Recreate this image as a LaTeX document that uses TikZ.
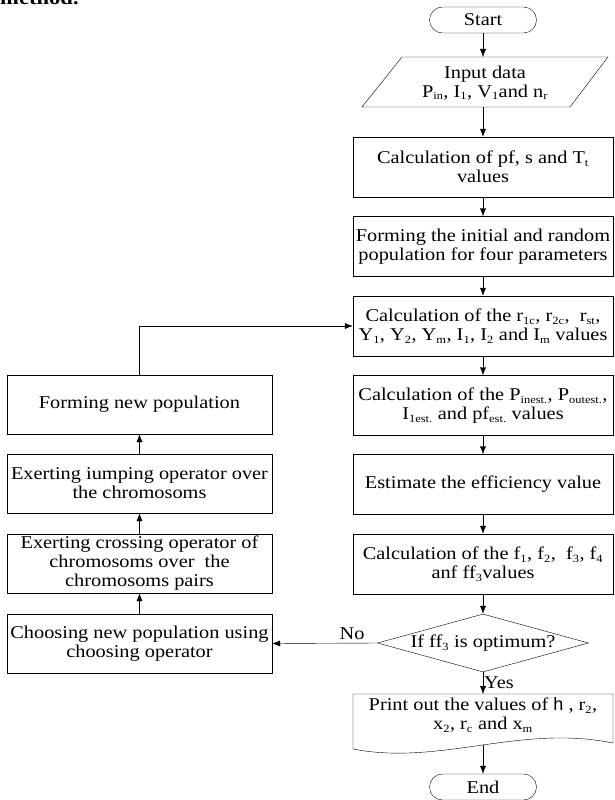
\documentclass[tikz,border=0pt]{standalone}
\usepackage{fontspec}
\setmainfont{Liberation Serif}[FakeStretch=1.13]
\newfontfamily\arialfont{Liberation Sans}
\usetikzlibrary{arrows.meta, shapes.geometric, positioning, calc}

\newcommand{\sbs}[1]{\textsubscript{\fontsize{11}{11}\selectfont #1}}

\tikzset{
  box/.style={draw, rectangle, minimum width=260pt, minimum height=60pt, align=center, inner sep=1pt},
  leftbox/.style={box, minimum width=265pt, minimum height=59pt},
  terminal/.style={draw, rectangle, rounded corners=13pt, minimum width=107pt, minimum height=26pt, inner sep=0pt},
  decision/.style={draw, diamond, aspect=3.6, minimum width=211pt, minimum height=58pt, inner sep=0pt},
  flow/.style={-{Latex[length=8pt,width=6pt]}},
}

\begin{document}
\begin{tikzpicture}[x=1pt, y=-1pt, font=\fontsize{18}{19}\selectfont]
\useasboundingbox (0,0) rectangle (614,800);
\clip (0,0) rectangle (614,800);

% cut-off text of the page above
\node[anchor=base west, inner sep=0pt, font=\fontsize{20}{22}\selectfont\bfseries] (method) at (0,5) {method.};

% main column
\node[terminal] (start) at (483,20) {Start};
\node[align=center, inner sep=0pt] (input) at (485,83) {Input data\\P\sbs{in}, I\sbs{1}, V\sbs{1}and n\sbs{r}};
\draw (402,57) -- (608,57) -- (570,107) -- (362,107) -- cycle;
\coordinate (intop) at (483,57);
\coordinate (inbot) at (483,107);
\node[box] (calcpf) at (483,167) {Calculation of pf, s and T\sbs{t}\\values};
\node[box] (forming) at (483,246.5) {Forming the initial and random\\population for four parameters};
\node[box] (calcr) at (483,326) {Calculation of the r\sbs{1c}, r\sbs{2c},\ \ r\sbs{st},\\Y\sbs{1}, Y\sbs{2}, Y\sbs{m}, I\sbs{1}, I\sbs{2} and I\sbs{m} values};
\node[box] (calcp) at (483,405.5) {Calculation of the P\sbs{inest.}, P\sbs{outest.},\\I\sbs{1est.} and pf\sbs{est.} values};
\node[box] (estimate) at (483,484.5) {Estimate the efficiency value};
\node[box] (calcf) at (483,564) {Calculation of the f\sbs{1}, f\sbs{2},\ \ f\sbs{3}, f\sbs{4}\\anf ff\sbs{3}values};
\node[decision] (decide) at (483,643) {If ff\sbs{3} is optimum?};
\node[align=center, inner sep=0pt] (print) at (483,715) {Print out the values of {\arialfont h} ,\ r\sbs{2},\\x\sbs{2}, r\sbs{c} and x\sbs{m}};
\node[terminal] (end) at (483,787) {End};

% document shape round the print node
\draw (353,694) -- (613,694) -- (613,743) .. controls (520,724) and (440,766) .. (353,749) -- cycle;
\coordinate (prtop) at (483,694);
\coordinate (wave) at (483,745);

% left column
\node[leftbox] (newpop) at (139.5,404.5) {Forming new population};
\node[leftbox] (jump) at (139.5,483.5) {Exerting iumping operator over\\the chromosoms};
\node[leftbox] (cross) at (139.5,563.5) {Exerting crossing operator of\\chromosoms over\ \ the\\chromosoms pairs};
\node[leftbox] (choose) at (139.5,643.5) {Choosing new population using\\choosing operator};

% connectors
\draw[flow] (start.south) -- (intop);
\draw[flow] (inbot) -- (calcpf.north);
\foreach \a/\b in {calcpf/forming, forming/calcr, calcr/calcp, calcp/estimate, estimate/calcf, calcf/decide}
  \draw[flow] (\a.south) -- (\b.north);
\foreach \a/\b in {choose/cross, cross/jump, jump/newpop}
  \draw[flow] (\a.north) -- (\b.south);
\draw[flow] (decide.south) -- node[right, inner sep=1pt] {Yes} (prtop);
\draw[flow] (wave) -- (end.north);
\draw[flow] (decide.west) -- node[above, pos=0.24] {No} (choose.east);
\draw[flow] (newpop.north) |- (calcr.west);
\end{tikzpicture}
\end{document}
